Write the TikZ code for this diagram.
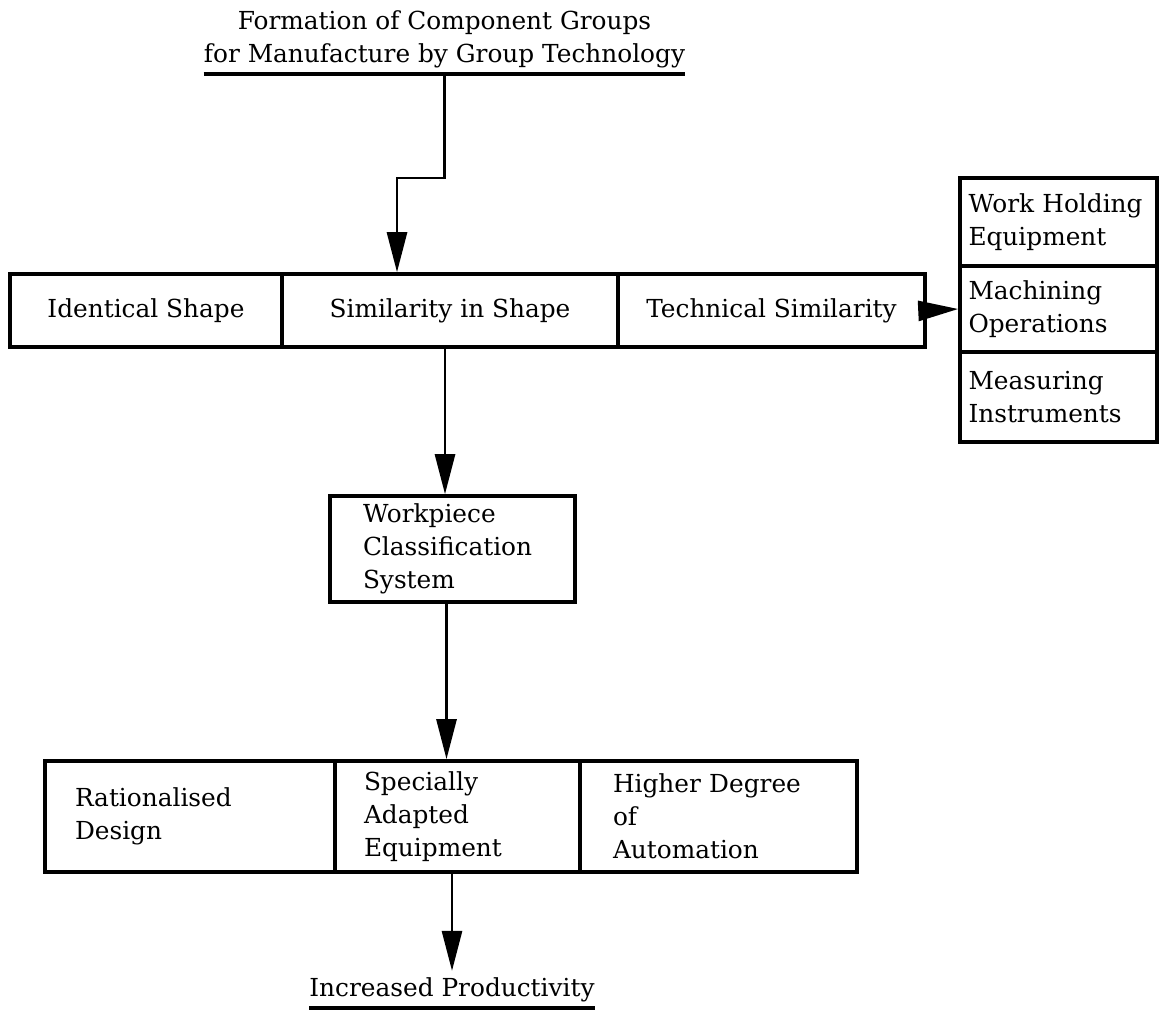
\documentclass[tikz,border=0pt]{standalone}
\usepackage{fontspec}
\setmainfont{DejaVu Serif}
\usetikzlibrary{arrows.meta,calc}
\begin{document}
\begin{tikzpicture}[x=0.5pt,y=-0.5pt,font=\fontsize{12.4}{16.5}\selectfont,
        cbox/.style={draw,line width=1.8pt,inner sep=0pt,align=center},
        lbox/.style={draw,line width=1.8pt,inner ysep=0pt,align=left},
        uline/.style={inner xsep=0pt,inner ysep=3pt,align=center},
        arr/.style={line width=1.4pt,-{Triangle[width=10pt,length=20pt]}}]
        \useasboundingbox (0,0) rectangle (1159,1016);
        \node[uline,anchor=south] (title) at (444.5,74) {Formation of Component Groups\\for Manufacture by Group Technology};
        \draw[line width=1.8pt] (title.south west) -- (title.south east);
        \node[cbox,minimum width=136pt,minimum height=36.5pt] (ident) at (146,310.5) {Identical Shape};
        \node[cbox,minimum width=168pt,minimum height=36.5pt] (simshape) at (450,310.5) {Similarity in Shape};
        \node[cbox,minimum width=153.5pt,minimum height=36.5pt] (techsim) at (771.5,310.5) {Technical Similarity};
        \node[lbox,inner xsep=4.25pt,text width=90pt,minimum height=44pt] (workhold) at (1058.5,222) {Work Holding\\Equipment};
        \node[lbox,inner xsep=4.25pt,text width=90pt,minimum height=43pt] (machining) at (1058.5,309) {Machining\\Operations};
        \node[lbox,inner xsep=4.25pt,text width=90pt,minimum height=45pt] (measuring) at (1058.5,397) {Measuring\\Instruments};
        \node[lbox,inner xsep=16.5pt,text width=89.5pt,minimum height=53pt] (work) at (452.5,549) {Workpiece\\Classification\\System};
        \node[lbox,inner xsep=15pt,text width=115pt,minimum height=55.5pt] (rational) at (190,816.5) {Rationalised\\Design};
        \node[lbox,inner xsep=14.5pt,text width=93.5pt,minimum height=55.5pt] (adapted) at (457.5,816.5) {Specially\\Adapted\\Equipment};
        \node[lbox,inner xsep=16.5pt,text width=105.5pt,minimum height=55.5pt] (higher) at (718.5,816.5) {Higher Degree\\of\\Automation};
        \node[uline,anchor=south] (result) at (452,1008) {Increased Productivity};
        \draw[line width=1.8pt] (result.south west) -- (result.south east);
        \coordinate (simout) at ($(simshape.south)+(-5,0)$);
        \coordinate (workout) at ($(work.south)+(-6,0)$);
        \draw[arr] (title.south) -- ++(0,104) -| ($(simshape.north)+(-53,0)$);
        \draw[arr] (techsim.east) -- (machining.west);
        \draw[arr] (simout) -- (simout |- work.north);
        \draw[arr] (workout) -- (workout |- adapted.north);
        \draw[arr] (adapted.south -| result.north) -- (result.north);
    \end{tikzpicture}
\end{document}
